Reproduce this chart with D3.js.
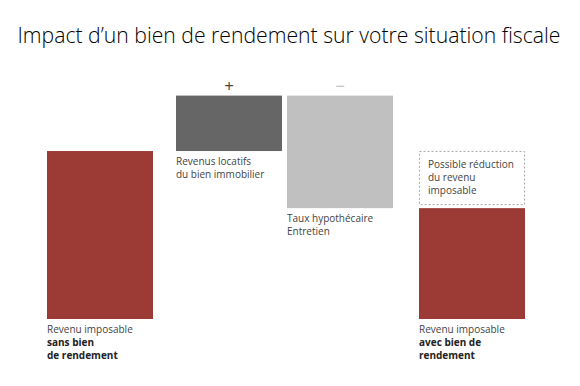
<!DOCTYPE html>
<html>
<head>
<meta charset="utf-8">
<script src="https://cdn.jsdelivr.net/npm/d3@7"></script>
<style>
  body { margin: 0; background: #fff; }
  text { font-family: "Open Sans", "Noto Sans", sans-serif; }
</style>
</head>
<body>
<div id="plot"></div>
<script>
// steps of the waterfall (relative units)
const categories = ["sans", "locatifs", "deductions", "avec"];
const values = [100, 33, -67, 66];
const kinds = ["total", "plus", "minus", "total"];
const labelLines = [
  [["Revenu imposable", false], ["sans bien", true], ["de rendement", true]],
  [["Revenus locatifs", false], ["du bien immobilier", false]],
  [["Taux hypothécaire", false], ["Entretien", false]],
  [["Revenu imposable", false], ["avec bien de", true], ["rendement", true]]
];
const signs = ["", "+", "−", ""];
const reductionLines = ["Possible réduction", "du revenu", "imposable"];

const width = 580, height = 386;
const svg = d3.select("#plot").append("svg")
  .attr("width", width)
  .attr("height", height);

svg.append("text")
  .attr("x", width / 2 - 1)
  .attr("y", 43)
  .attr("text-anchor", "middle")
  .attr("font-size", 21.2)
  .attr("font-weight", 300)
  .attr("fill", "#000")
  .text("Impact d’un bien de rendement sur votre situation fiscale");

// build start/end for each step
let running = 0;
const data = categories.map((c, i) => {
  let y0, y1;
  if (kinds[i] === "total") { y0 = 0; y1 = values[i]; running = values[i]; }
  else { y0 = running; y1 = running + values[i]; running = y1; }
  return {cat: c, kind: kinds[i], y0, y1, lines: labelLines[i], sign: signs[i]};
});

const x = d3.scaleOrdinal().domain(categories).range([47, 176, 287, 419]);
const barW = 106;
const y = d3.scaleLinear().domain([0, 133]).range([319, 95.6]);

const fill = {total: "#9c3b36", plus: "#666666", minus: "#c0c0c0"};

svg.selectAll("rect.bar")
  .data(data)
  .join("rect")
    .attr("class", "bar")
    .attr("x", d => x(d.cat))
    .attr("y", d => y(Math.max(d.y0, d.y1)))
    .attr("width", barW)
    .attr("height", d => Math.abs(y(d.y0) - y(d.y1)))
    .attr("fill", d => fill[d.kind]);

// signs above the change bars
svg.selectAll("text.sign")
  .data(data.filter(d => d.sign))
  .join("text")
    .attr("class", "sign")
    .attr("x", d => x(d.cat) + barW / 2)
    .attr("y", d => y(Math.max(d.y0, d.y1)) - 4)
    .attr("text-anchor", "middle")
    .attr("font-size", 17)
    .attr("fill", d => d.kind === "plus" ? "#444" : "#bbb")
    .text(d => d.sign);

// labels under each bar
const lab = svg.selectAll("g.lab")
  .data(data)
  .join("g")
    .attr("class", "lab")
    .attr("transform", d => `translate(${x(d.cat)},${y(Math.min(d.y0, d.y1)) + 14})`);
lab.selectAll("text")
  .data(d => d.lines)
  .join("text")
    .attr("y", (d, i) => i * 13.2)
    .attr("font-size", 10)
    .attr("font-weight", d => d[1] ? 700 : 400)
    .attr("fill", d => d[1] ? "#222" : "#444")
    .text(d => d[0]);

// dashed box for the possible reduction
const last = data[3];
const boxTop = y(data[0].y1), boxBot = y(last.y1);
svg.append("rect")
  .attr("x", x(last.cat) + 0.5)
  .attr("y", boxTop + 0.5)
  .attr("width", barW - 1)
  .attr("height", boxBot - boxTop - 4)
  .attr("fill", "none")
  .attr("stroke", "#aaa")
  .attr("stroke-dasharray", "2,2");
svg.selectAll("text.red")
  .data(reductionLines)
  .join("text")
    .attr("class", "red")
    .attr("x", x(last.cat) + 9)
    .attr("y", (d, i) => boxTop + 17 + i * 13.2)
    .attr("font-size", 10)
    .attr("fill", "#444")
    .text(d => d);
</script>
</body>
</html>
